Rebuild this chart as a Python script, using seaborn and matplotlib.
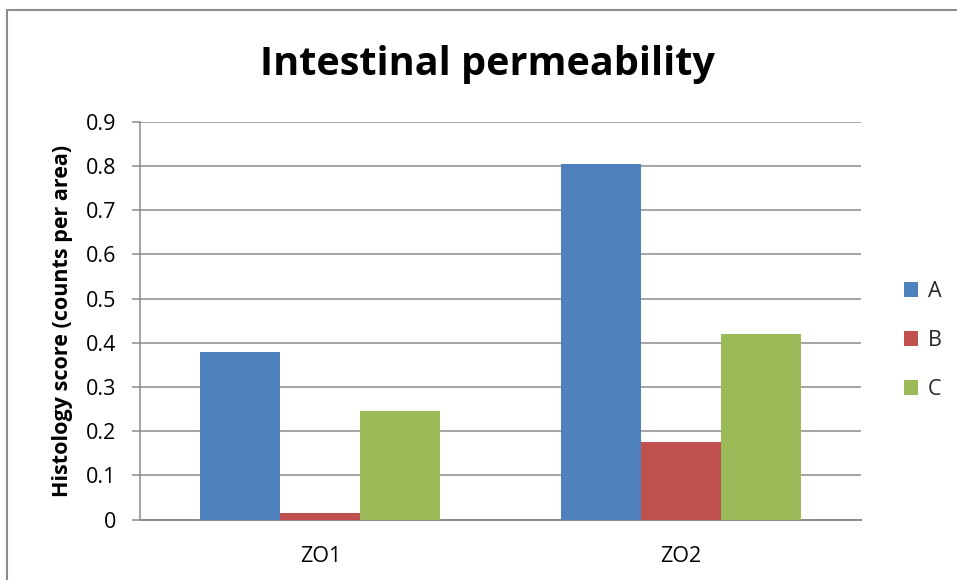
import matplotlib
matplotlib.use("Agg")
import matplotlib.pyplot as plt
from matplotlib.patches import Rectangle
import seaborn as sns
import pandas as pd

# Histology scores per marker and group
markers = ["ZO1", "ZO2"]
groups = ["A", "B", "C"]
score_a = [0.38, 0.804]
score_b = [0.014, 0.175]
score_c = [0.246, 0.419]
colors = ["#4F81BD", "#C0504D", "#9BBB59"]

rows = []
for g, vals in zip(groups, [score_a, score_b, score_c]):
    for m, v in zip(markers, vals):
        rows.append({"marker": m, "group": g, "score": v})
df = pd.DataFrame(rows)

sns.set_theme(style="white")
plt.rcParams["font.family"] = ["Open Sans", "DejaVu Sans"]

fig = plt.figure(figsize=(9.57, 5.8), dpi=100)
ax = fig.add_axes([0.1463, 0.1043, 0.8997 - 0.1463, 0.7897 - 0.1043])

sns.barplot(data=df, x="marker", y="score", hue="group", order=markers,
            hue_order=groups, palette=colors, width=0.665, gap=0,
            linewidth=0, saturation=1, ax=ax, zorder=3)

ax.set_ylim(0, 0.9)
ax.set_yticks([i / 10 for i in range(10)])
ax.set_yticklabels(["0"] + [f"0.{i}" for i in range(1, 10)])
ax.set_xlim(-0.5, 1.5)
ax.yaxis.grid(True, color="#8c8c8c", linewidth=1.1, zorder=0)
ax.set_axisbelow(True)

for s in ["top", "right"]:
    ax.spines[s].set_visible(False)
ax.spines["left"].set_color("#8c8c8c")
ax.spines["left"].set_linewidth(1.1)
ax.spines["bottom"].set_color("#8c8c8c")
ax.spines["bottom"].set_linewidth(1.4)

ax.tick_params(axis="y", which="major", left=True, length=6, width=1.1,
               color="#8c8c8c", labelsize=15.5, pad=11, labelcolor="black")
ax.tick_params(axis="x", bottom=False, labelsize=15.5, pad=13, labelcolor="black")

ax.set_xlabel("")
ax.set_ylabel("Histology score (counts per area)", fontsize=15.5,
              fontweight="bold", labelpad=9, color="black")

fig.text(0.509, 0.888, "Intestinal permeability", ha="center", va="center",
         fontsize=28.5, fontweight="bold", color="black")

leg = ax.legend(loc="center left", bbox_to_anchor=(1.033, 0.45), frameon=False,
                fontsize=15.5, handlelength=0.65, handleheight=0.65,
                labelspacing=1.3, handletextpad=0.45)

# Outer chart frame
fig.patches.append(Rectangle((7 / 957, -0.05), 1.2, 1 - 10 / 580 + 0.05,
                             transform=fig.transFigure, fill=False,
                             edgecolor="#8c8c8c", linewidth=1.5))

fig.savefig("out.png", dpi=100)
